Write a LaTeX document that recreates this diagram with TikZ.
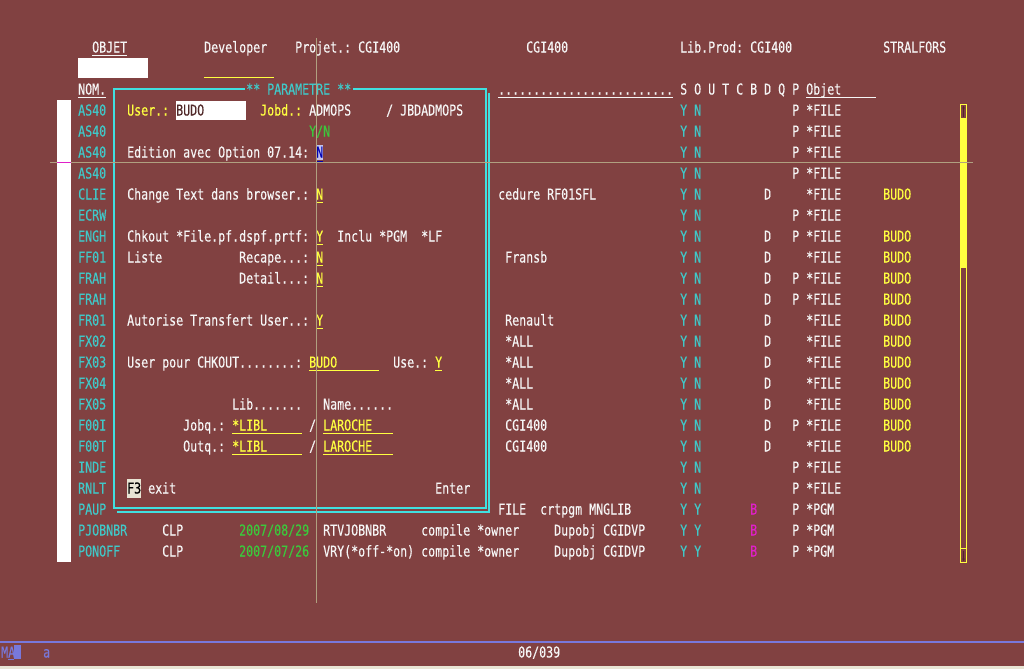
\documentclass[tikz,border=0pt]{standalone}
\usepackage{fontspec}
\setmonofont[FakeStretch=0.7751,FakeBold=0.3]{DejaVu Sans Mono}
\usetikzlibrary{arrows.meta}
\definecolor{scrbg}{RGB}{129,65,65}
\definecolor{scrwhite}{RGB}{246,246,246}
\definecolor{scrcyan}{RGB}{64,200,200}
\definecolor{scrframe}{RGB}{64,224,224}
\definecolor{scryel}{RGB}{255,255,64}
\definecolor{scrgreen}{RGB}{60,200,60}
\definecolor{scrmag}{RGB}{224,32,200}
\definecolor{scrhair}{RGB}{176,160,128}
\definecolor{scrblue}{RGB}{120,120,220}
\definecolor{scrdark}{RGB}{80,40,40}
\definecolor{scrbeige}{RGB}{232,228,212}
\begin{document}
\begin{tikzpicture}[x=1pt,y=-1pt,line cap=butt,>=Stealth]
\tikzset{
  txt/.style={font=\ttfamily\fontsize{15}{18}\selectfont,inner sep=0pt,anchor=base west,yshift=-5.5pt,text=scrwhite},
  cy/.style={txt,text=scrcyan},
  ye/.style={txt,text=scryel},
  gr/.style={txt,text=scrgreen},
  ul/.style={line width=1pt},
  frm/.style={scrframe,line width=2pt},
}
\fill[scrbg] (0,0) rectangle (1024,669);
\useasboundingbox (0,0) rectangle (1024,669);
% header
\node[txt] (objet) at (92,47) {OBJET};
\draw[ul,scrwhite] (92,56) -- (127,56);
\node[txt] (dev) at (204,47) {Developer};
\node[txt] (proj) at (295,47) {Projet.: CGI400};
\node[txt] (cgi) at (526,47) {CGI400};
\node[txt] (libprod) at (680,47) {Lib.Prod: CGI400};
\node[txt] (stral) at (883,47) {STRALFORS};
\fill[white] (78,58) rectangle (148,78);
\draw[ul,scryel] (204,77) -- (274,77);
\node[txt] (nomh) at (78,89) {NOM.};
\draw[ul,scrwhite] (78,97) -- (106,97);
\node[txt] (dots) at (498,89) {.........................};
\draw[ul,scrwhite] (498,97) -- (673,97);
\node[txt] (cols) at (680,89) {S O U T C B D Q P};
\node[txt] (objh) at (806,89) {Objet};
\draw[ul,scrwhite] (806,97) -- (876,97);
% white bar
\fill[white] (57,100) rectangle (71,562);
% list rows
\foreach \nm/\o/\b/\d/\p/\obj/\us [count=\i] in {
  AS40/N/{}/{}/P/*FILE/{}, AS40/N/{}/{}/P/*FILE/{}, AS40/N/{}/{}/P/*FILE/{}, AS40/N/{}/{}/P/*FILE/{},
  CLIE/N/{}/D/{}/*FILE/BUDO, ECRW/N/{}/{}/P/*FILE/{}, ENGH/N/{}/D/P/*FILE/BUDO, FF01/N/{}/D/{}/*FILE/BUDO,
  FRAH/N/{}/D/P/*FILE/BUDO, FRAH/N/{}/D/P/*FILE/BUDO, FR01/N/{}/D/{}/*FILE/BUDO, FX02/N/{}/D/{}/*FILE/BUDO,
  FX03/N/{}/D/{}/*FILE/BUDO, FX04/N/{}/D/{}/*FILE/BUDO, FX05/N/{}/D/{}/*FILE/BUDO, F00I/N/{}/D/P/*FILE/BUDO,
  F00T/N/{}/D/{}/*FILE/BUDO, INDE/N/{}/{}/P/*FILE/{}, RNLT/N/{}/{}/P/*FILE/{}, PAUP/Y/B/{}/P/*PGM/{},
  PJOBNBR/Y/B/{}/P/*PGM/{}, PONOFF/Y/B/{}/P/*PGM/{}}
{
  \node[cy] (nom\i) at (78,89+21*\i) {\nm};
  \node[cy] (s\i) at (680,89+21*\i) {Y};
  \node[cy] (o\i) at (694,89+21*\i) {\o};
  \node[txt,text=scrmag] (b\i) at (750,89+21*\i) {\b};
  \node[txt] (d\i) at (764,89+21*\i) {\d};
  \node[txt] (p\i) at (792,89+21*\i) {\p};
  \node[txt] (obj\i) at (806,89+21*\i) {\obj};
  \node[ye] (us\i) at (883,89+21*\i) {\us};
}
% texts beside the window
\node[txt] (txt5) at (498,194) {cedure RF01SFL};
\node[txt] (txt8) at (505,257) {Fransb};
\node[txt] (txt11) at (505,320) {Renault};
\foreach \r in {341,362,383,404}
  \node[txt] (all\r) at (505,\r) {*ALL};
\node[txt] (txt16) at (505,425) {CGI400};
\node[txt] (txt17) at (505,446) {CGI400};
\node[txt] (file20) at (498,509) {FILE};
\node[txt] (crt20) at (540,509) {crtpgm MNGLIB};
\node[txt] (clp21) at (162,530) {CLP};
\node[gr] (date21) at (239,530) {2007/08/29};
\node[txt] (cmd21) at (323,530) {RTVJOBNBR};
\node[txt] (cpl21) at (421,530) {compile *owner};
\node[txt] (dup21) at (554,530) {Dupobj CGIDVP};
\node[txt] (clp22) at (162,551) {CLP};
\node[gr] (date22) at (239,551) {2007/07/26};
\node[txt] (cmd22) at (323,551) {VRY(*off-*on)};
\node[txt] (cpl22) at (421,551) {compile *owner};
\node[txt] (dup22) at (554,551) {Dupobj CGIDVP};
% window
\node[cy] (ttl) at (246,89) {** PARAMETRE **};
\coordinate (tl) at (114,89);
\draw[frm] ([xshift=-1.5pt]ttl.west |- tl) -- (114,89) -- (114,508) -- (486,508) -- (486,89) -- ([xshift=1.5pt]ttl.east |- tl);
\draw[frm] (489,93) -- (489,512) -- (117,512);
\node[ye] (user) at (127,110) {User.:};
\fill[white] (176,101) rectangle (246,120);
\node[txt,text=scrdark] (userv) at (176,110) {BUDO};
\node[ye] (jobd) at (260,110) {Jobd.:};
\node[txt] (jobdv) at (309,110) {ADMOPS};
\node[txt] (slash1) at (386,110) {/};
\node[txt] (jobdl) at (400,110) {JBDADMOPS};
\node[gr] (yn) at (309,131) {Y/N};
\node[txt] (edit) at (127,152) {Edition avec Option 07.14:};
\fill[scrblue!45!white] (316,145) rectangle (323,160);
\node[txt,text=blue!70!black] (editv) at (316,152) {N};
\draw[ul,blue!70!black] (316,161) -- (323,161);
\node[txt] (chg) at (127,194) {Change Text dans browser.:};
\node[ye] (chgv) at (316,194) {N};
\node[txt] (chk) at (127,236) {Chkout *File.pf.dspf.prtf:};
\node[ye] (chkv) at (316,236) {Y};
\node[txt] (incl) at (337,236) {Inclu *PGM};
\node[txt] (lf) at (421,236) {*LF};
\node[txt] (liste) at (127,257) {Liste};
\node[txt] (recap) at (239,257) {Recape...:};
\node[ye] (recapv) at (316,257) {N};
\node[txt] (det) at (239,278) {Detail...:};
\node[ye] (detv) at (316,278) {N};
\node[txt] (aut) at (127,320) {Autorise Transfert User..:};
\node[ye] (autv) at (316,320) {Y};
\node[txt] (uchk) at (127,362) {User pour CHKOUT........:};
\node[ye] (uchkv) at (309,362) {BUDO};
\node[txt] (use) at (393,362) {Use.:};
\node[ye] (usev) at (435,362) {Y};
\foreach \r in {194,236,257,278,320}
  \draw[ul,scryel] (316,\r+8.5) -- (323,\r+8.5);
\draw[ul,scryel] (309,370.5) -- (379,370.5);
\draw[ul,scryel] (435,370.5) -- (442,370.5);
\node[txt] (lib) at (232,404) {Lib.......};
\node[txt] (name) at (323,404) {Name......};
\foreach \r/\k in {425/Jobq, 446/Outq}{
  \node[txt] (\k) at (183,\r) {\k.:};
  \node[ye] (\k lib) at (232,\r) {*LIBL};
  \node[txt] (\k sl) at (309,\r) {/};
  \node[ye] (\k nm) at (323,\r) {LAROCHE};
  \draw[ul,scryel] (232,\r+8.5) -- (302,\r+8.5);
  \draw[ul,scryel] (323,\r+8.5) -- (393,\r+8.5);
}
\fill[scrbeige] (127,479) rectangle (141,498);
\node[txt,text=black] (f3) at (127,488) {F3};
\node[txt] (exit) at (148,488) {exit};
\node[txt] (enter) at (435,488) {Enter};
% scroll bar
\draw[scryel,line width=1pt] (960.5,104.5) rectangle (966.5,118.5);
\draw[scryel,line width=1pt] (960.5,119.5) rectangle (966.5,548.5);
\fill[scryel] (961,120) rectangle (966,268);
\draw[scryel,line width=1pt] (960.5,548.5) rectangle (966.5,562.5);
\draw[scrdark,line width=0.6pt,-{Stealth[length=2.5pt,width=2.5pt]}] (963.5,116.5) -- (963.5,106);
\draw[scrdark,line width=0.6pt,-{Stealth[length=2.5pt,width=2.5pt]}] (963.5,550.5) -- (963.5,561);
% crosshair
\draw[scrhair,line width=1pt] (316,38) -- (316,603);
\draw[scrhair,line width=1pt] (50,162) -- (973,162);
\draw[scrmag,line width=1pt] (57,162) -- (71,162);
% status line
\draw[scrblue,line width=2.5pt] (0,642) -- (1024,642);
\node[txt,text=scrblue] (ma) at (1,652) {MA};
\draw[scrblue,line width=0.8pt] (8,659) -- (14,659);
\fill[scrblue] (14,645) rectangle (21,659);
\node[txt,text=scrblue] (kb) at (43,652) {a};
\node[txt] (pos) at (518,652) {06/039};
\fill[scrbeige] (0,666) rectangle (1024,669);
\end{tikzpicture}
\end{document}
